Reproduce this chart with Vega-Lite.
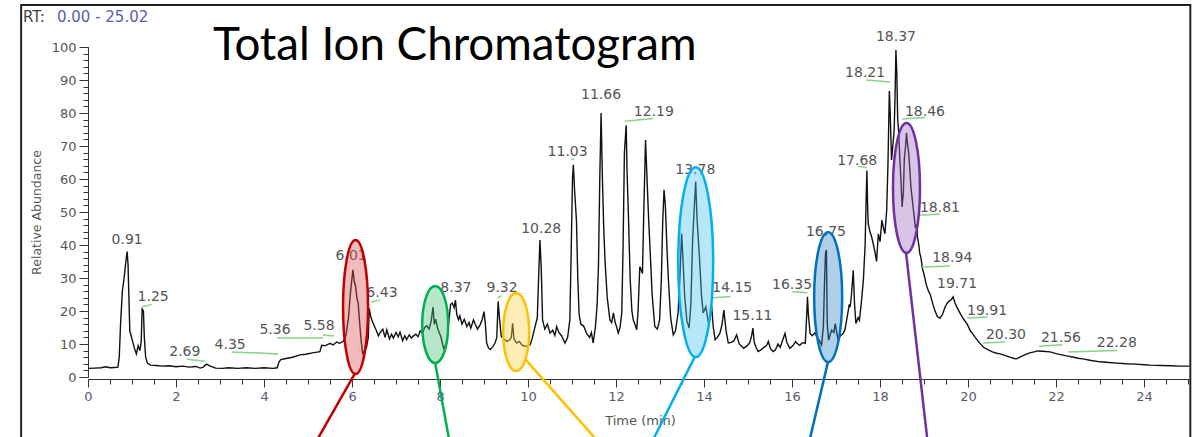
{
  "$schema": "https://vega.github.io/schema/vega-lite/v6.json",
  "width": 1101,
  "height": 330,
  "autosize": {"type": "none"},
  "padding": {"left": 88, "top": 47, "right": 7, "bottom": 60},
  "background": "#ffffff",
  "config": {"view": {"stroke": null}},
  "resolve": {"axis": {"x": "independent", "y": "independent"}},
  "datasets": {
    "trace": [
      {"t":0.00,"a":2.6},{"t":0.15,"a":2.7},{"t":0.3,"a":2.8},{"t":0.4,"a":3.1},{"t":0.5,"a":2.8},{"t":0.6,"a":2.9},{"t":0.68,"a":3.0},
      {"t":0.71,"a":6},{"t":0.74,"a":16},{"t":0.78,"a":26},{"t":0.82,"a":30},{"t":0.86,"a":35},{"t":0.89,"a":38},{"t":0.91,"a":34},
      {"t":0.93,"a":24},{"t":0.95,"a":14},{"t":0.98,"a":12.5},{"t":1.02,"a":10.5},{"t":1.06,"a":8.5},{"t":1.1,"a":7},{"t":1.14,"a":9.5},
      {"t":1.18,"a":8},{"t":1.21,"a":11},{"t":1.23,"a":20.6},{"t":1.26,"a":20},{"t":1.28,"a":12},{"t":1.31,"a":6},{"t":1.35,"a":4.2},
      {"t":1.42,"a":3.6},{"t":1.55,"a":3.5},{"t":1.7,"a":3.3},{"t":1.85,"a":3.4},{"t":2.0,"a":3.1},{"t":2.15,"a":3.3},{"t":2.3,"a":3.0},
      {"t":2.45,"a":3.2},{"t":2.55,"a":2.7},{"t":2.62,"a":3.0},{"t":2.69,"a":3.9},{"t":2.78,"a":3.3},{"t":2.9,"a":2.7},{"t":3.05,"a":2.6},
      {"t":3.2,"a":2.8},{"t":3.4,"a":2.6},{"t":3.6,"a":2.8},{"t":3.8,"a":2.6},{"t":4.0,"a":2.8},{"t":4.2,"a":2.6},{"t":4.3,"a":2.8},
      {"t":4.34,"a":4.5},{"t":4.38,"a":5.3},{"t":4.5,"a":5.6},{"t":4.65,"a":6.0},{"t":4.82,"a":6.7},{"t":4.95,"a":6.9},{"t":5.1,"a":7.3},
      {"t":5.27,"a":7.7},{"t":5.31,"a":9.6},{"t":5.4,"a":9.5},{"t":5.5,"a":10.2},{"t":5.57,"a":9.7},{"t":5.65,"a":10.6},{"t":5.72,"a":10.2},
      {"t":5.8,"a":10.8},{"t":5.86,"a":12.5},{"t":5.92,"a":18},{"t":5.96,"a":25},{"t":6.0,"a":30},{"t":6.02,"a":32.5},{"t":6.05,"a":29},
      {"t":6.08,"a":27.5},{"t":6.11,"a":24},{"t":6.14,"a":22.4},{"t":6.17,"a":17},{"t":6.2,"a":12},{"t":6.24,"a":7.2},{"t":6.28,"a":7.8},
      {"t":6.33,"a":9},{"t":6.37,"a":12},{"t":6.39,"a":20.8},{"t":6.43,"a":18},{"t":6.48,"a":16.3},{"t":6.54,"a":14.5},{"t":6.6,"a":12.5},
      {"t":6.64,"a":13.5},{"t":6.7,"a":14.5},{"t":6.75,"a":12},{"t":6.79,"a":14.3},{"t":6.85,"a":11.5},{"t":6.9,"a":13},{"t":6.94,"a":11.8},
      {"t":7.0,"a":13.5},{"t":7.05,"a":12.2},{"t":7.09,"a":13.6},{"t":7.15,"a":11},{"t":7.2,"a":12.5},{"t":7.24,"a":11.3},{"t":7.3,"a":12.8},
      {"t":7.35,"a":11.8},{"t":7.39,"a":12.4},{"t":7.45,"a":13},{"t":7.5,"a":12.2},{"t":7.55,"a":14},{"t":7.6,"a":13.2},{"t":7.65,"a":15},
      {"t":7.7,"a":15.5},{"t":7.75,"a":14.5},{"t":7.8,"a":17},{"t":7.84,"a":21.2},{"t":7.87,"a":16},{"t":7.9,"a":17.5},{"t":7.94,"a":15},
      {"t":7.98,"a":13.5},{"t":8.02,"a":12.2},{"t":8.08,"a":8.7},{"t":8.12,"a":9.5},{"t":8.16,"a":11},{"t":8.2,"a":17},{"t":8.24,"a":22},
      {"t":8.28,"a":22.4},{"t":8.32,"a":21},{"t":8.35,"a":23.3},{"t":8.38,"a":19},{"t":8.42,"a":17.4},{"t":8.45,"a":18.5},{"t":8.5,"a":16},
      {"t":8.55,"a":17.5},{"t":8.61,"a":15.3},{"t":8.66,"a":16.5},{"t":8.7,"a":14.8},{"t":8.76,"a":17.3},{"t":8.8,"a":16},{"t":8.85,"a":14.5},
      {"t":8.91,"a":15.8},{"t":8.96,"a":17.5},{"t":9.0,"a":19.8},{"t":9.03,"a":16},{"t":9.06,"a":10.3},{"t":9.1,"a":8.8},{"t":9.14,"a":8.3},
      {"t":9.2,"a":9.2},{"t":9.25,"a":10.3},{"t":9.29,"a":12},{"t":9.32,"a":22.9},{"t":9.35,"a":18},{"t":9.39,"a":12.3},{"t":9.45,"a":11.5},
      {"t":9.52,"a":10.8},{"t":9.58,"a":11.2},{"t":9.62,"a":12},{"t":9.65,"a":16.3},{"t":9.68,"a":11.5},{"t":9.74,"a":10.3},{"t":9.8,"a":10.8},
      {"t":9.86,"a":9.7},{"t":9.93,"a":9.3},{"t":10.0,"a":9.5},{"t":10.05,"a":9.8},{"t":10.1,"a":12},{"t":10.16,"a":15.3},{"t":10.21,"a":18},
      {"t":10.24,"a":30},{"t":10.27,"a":41.5},{"t":10.3,"a":33},{"t":10.33,"a":17.3},{"t":10.38,"a":14.5},{"t":10.44,"a":16},{"t":10.5,"a":13.3},
      {"t":10.56,"a":14.2},{"t":10.61,"a":12.6},{"t":10.65,"a":15.3},{"t":10.7,"a":13.5},{"t":10.76,"a":12.5},{"t":10.84,"a":10.3},{"t":10.9,"a":12},
      {"t":10.95,"a":17.3},{"t":10.98,"a":38},{"t":11.01,"a":60},{"t":11.03,"a":64.3},{"t":11.06,"a":56},{"t":11.1,"a":47.5},{"t":11.13,"a":30},
      {"t":11.16,"a":19},{"t":11.2,"a":16},{"t":11.26,"a":15.5},{"t":11.33,"a":13.3},{"t":11.4,"a":12},{"t":11.44,"a":13.5},{"t":11.48,"a":10.3},
      {"t":11.53,"a":15},{"t":11.57,"a":22},{"t":11.6,"a":33.5},{"t":11.63,"a":60},{"t":11.66,"a":80},{"t":11.69,"a":60},{"t":11.72,"a":45},
      {"t":11.75,"a":35},{"t":11.8,"a":24},{"t":11.86,"a":17.3},{"t":11.9,"a":16.5},{"t":11.94,"a":19.4},{"t":11.98,"a":16.5},{"t":12.01,"a":15.3},
      {"t":12.05,"a":13.3},{"t":12.09,"a":15},{"t":12.13,"a":19.4},{"t":12.16,"a":40},{"t":12.19,"a":68},{"t":12.23,"a":76.3},{"t":12.25,"a":62},
      {"t":12.28,"a":49.6},{"t":12.32,"a":30},{"t":12.36,"a":20},{"t":12.39,"a":17.3},{"t":12.43,"a":16},{"t":12.47,"a":14.3},{"t":12.5,"a":20},
      {"t":12.54,"a":33.5},{"t":12.6,"a":31.4},{"t":12.63,"a":50},{"t":12.67,"a":71.8},{"t":12.71,"a":58},{"t":12.74,"a":48},{"t":12.77,"a":39.5},
      {"t":12.82,"a":25},{"t":12.88,"a":15.3},{"t":12.94,"a":14.5},{"t":12.99,"a":17.3},{"t":13.03,"a":30},{"t":13.06,"a":47},{"t":13.09,"a":56.7},
      {"t":13.12,"a":52},{"t":13.16,"a":38},{"t":13.19,"a":29.4},{"t":13.24,"a":18},{"t":13.3,"a":12.8},{"t":13.35,"a":14},{"t":13.41,"a":19.4},
      {"t":13.45,"a":30},{"t":13.49,"a":43.5},{"t":13.52,"a":36},{"t":13.56,"a":24.3},{"t":13.61,"a":17},{"t":13.66,"a":14.8},{"t":13.7,"a":22},
      {"t":13.74,"a":41.5},{"t":13.78,"a":52},{"t":13.81,"a":59.2},{"t":13.84,"a":48},{"t":13.89,"a":37.5},{"t":13.94,"a":25},{"t":13.98,"a":19.4},
      {"t":14.04,"a":21.3},{"t":14.1,"a":16.3},{"t":14.14,"a":18},{"t":14.17,"a":21.9},{"t":14.21,"a":15},{"t":14.25,"a":11.3},{"t":14.3,"a":12},
      {"t":14.36,"a":13.3},{"t":14.41,"a":16},{"t":14.45,"a":20.3},{"t":14.5,"a":14},{"t":14.55,"a":10.3},{"t":14.62,"a":10.5},{"t":14.68,"a":11},
      {"t":14.74,"a":12.8},{"t":14.8,"a":10},{"t":14.9,"a":8.7},{"t":14.98,"a":9.5},{"t":15.04,"a":10.5},{"t":15.08,"a":12.5},{"t":15.11,"a":14.8},
      {"t":15.14,"a":10.5},{"t":15.18,"a":9},{"t":15.23,"a":7.7},{"t":15.3,"a":8.3},{"t":15.36,"a":9},{"t":15.42,"a":9.5},{"t":15.46,"a":10.8},
      {"t":15.51,"a":8.5},{"t":15.57,"a":7.7},{"t":15.62,"a":8.2},{"t":15.68,"a":10},{"t":15.73,"a":9},{"t":15.78,"a":11},{"t":15.84,"a":13.2},
      {"t":15.88,"a":10.5},{"t":15.95,"a":8.7},{"t":16.02,"a":9.5},{"t":16.08,"a":10.7},{"t":16.11,"a":10.2},{"t":16.17,"a":9.6},{"t":16.24,"a":10.4},
      {"t":16.3,"a":10.2},{"t":16.33,"a":18},{"t":16.35,"a":24.3},{"t":16.37,"a":19},{"t":16.41,"a":13.2},{"t":16.46,"a":12.5},{"t":16.52,"a":13.4},
      {"t":16.56,"a":12.2},{"t":16.62,"a":11},{"t":16.67,"a":9.7},{"t":16.71,"a":15},{"t":16.74,"a":30},{"t":16.76,"a":37.5},{"t":16.78,"a":38.5},
      {"t":16.8,"a":16},{"t":16.83,"a":11.2},{"t":16.87,"a":13},{"t":16.9,"a":14.2},{"t":16.95,"a":13.5},{"t":16.98,"a":16.2},{"t":17.02,"a":13},
      {"t":17.05,"a":11.2},{"t":17.1,"a":12.5},{"t":17.15,"a":13},{"t":17.2,"a":14.2},{"t":17.25,"a":18},{"t":17.3,"a":22},{"t":17.32,"a":21.2},
      {"t":17.35,"a":25},{"t":17.39,"a":32.3},{"t":17.42,"a":22},{"t":17.45,"a":16.2},{"t":17.5,"a":18},{"t":17.53,"a":17.2},{"t":17.57,"a":22},
      {"t":17.62,"a":29.3},{"t":17.66,"a":40},{"t":17.68,"a":52},{"t":17.7,"a":62.6},{"t":17.72,"a":50},{"t":17.73,"a":46.5},{"t":17.77,"a":44},
      {"t":17.81,"a":42.4},{"t":17.85,"a":40},{"t":17.89,"a":37.4},{"t":17.92,"a":35},{"t":17.96,"a":43.4},{"t":18.0,"a":41},{"t":18.04,"a":47.5},
      {"t":18.08,"a":45},{"t":18.11,"a":43.4},{"t":18.15,"a":50.5},{"t":18.18,"a":65},{"t":18.21,"a":86.7},{"t":18.23,"a":80},{"t":18.26,"a":65.8},
      {"t":18.29,"a":70},{"t":18.32,"a":74.9},{"t":18.34,"a":85},{"t":18.36,"a":99.1},{"t":18.38,"a":92},{"t":18.4,"a":78},{"t":18.42,"a":74.9},
      {"t":18.45,"a":65.8},{"t":18.48,"a":58},{"t":18.5,"a":51.5},{"t":18.53,"a":56},{"t":18.55,"a":66},{"t":18.58,"a":70},{"t":18.6,"a":74},
      {"t":18.62,"a":71},{"t":18.65,"a":68},{"t":18.68,"a":62},{"t":18.7,"a":57.7},{"t":18.73,"a":54},{"t":18.75,"a":51.5},{"t":18.78,"a":48},
      {"t":18.8,"a":45.5},{"t":18.83,"a":46},{"t":18.85,"a":42.4},{"t":18.88,"a":40},{"t":18.9,"a":37.6},{"t":18.93,"a":36},{"t":18.96,"a":33},
      {"t":19.0,"a":31},{"t":19.05,"a":28},{"t":19.1,"a":26},{"t":19.14,"a":25},{"t":19.2,"a":22},{"t":19.25,"a":20},{"t":19.3,"a":18.3},
      {"t":19.36,"a":17.8},{"t":19.42,"a":19},{"t":19.47,"a":21},{"t":19.52,"a":22.3},{"t":19.57,"a":23},{"t":19.62,"a":23.5},{"t":19.66,"a":24.3},
      {"t":19.7,"a":22.5},{"t":19.75,"a":21},{"t":19.82,"a":19.3},{"t":19.9,"a":17.5},{"t":19.98,"a":16},{"t":20.05,"a":14},{"t":20.11,"a":13},
      {"t":20.16,"a":12},{"t":20.25,"a":10.5},{"t":20.35,"a":9},{"t":20.45,"a":8.3},{"t":20.55,"a":7.6},{"t":20.65,"a":7.2},{"t":20.73,"a":7},
      {"t":20.85,"a":6.5},{"t":20.95,"a":6.0},{"t":21.05,"a":5.6},{"t":21.1,"a":5.5},{"t":21.2,"a":6.2},{"t":21.3,"a":6.8},{"t":21.4,"a":7.3},
      {"t":21.5,"a":7.6},{"t":21.57,"a":7.9},{"t":21.7,"a":7.8},{"t":21.86,"a":7.6},{"t":22.0,"a":7.1},{"t":22.1,"a":6.8},{"t":22.24,"a":6.4},
      {"t":22.4,"a":6},{"t":22.5,"a":5.7},{"t":22.61,"a":5.5},{"t":22.8,"a":5},{"t":23.0,"a":4.6},{"t":23.2,"a":4.4},{"t":23.38,"a":4.2},
      {"t":23.6,"a":4.0},{"t":23.8,"a":3.9},{"t":24.0,"a":3.7},{"t":24.14,"a":3.6},{"t":24.4,"a":3.5},{"t":24.6,"a":3.4},{"t":24.8,"a":3.3},{"t":25.02,"a":3.3}
    ],
    "peaks": [
      {"t":0.89,"a":41.5,"label":"0.91"},{"t":1.48,"a":24.2,"label":"1.25"},{"t":2.2,"a":7.6,"label":"2.69"},
      {"t":3.23,"a":9.7,"label":"4.35"},{"t":4.25,"a":14.2,"label":"5.36"},{"t":5.25,"a":15.5,"label":"5.58"},
      {"t":5.98,"a":36.7,"label":"6.01"},{"t":6.68,"a":25.5,"label":"6.43"},{"t":8.36,"a":27,"label":"8.37"},
      {"t":9.41,"a":27,"label":"9.32"},{"t":10.3,"a":44.8,"label":"10.28"},{"t":10.9,"a":68.2,"label":"11.03"},
      {"t":11.66,"a":85.5,"label":"11.66"},{"t":12.86,"a":80.3,"label":"12.19"},{"t":13.8,"a":62.7,"label":"13.78"},
      {"t":14.64,"a":27,"label":"14.15"},{"t":15.1,"a":18.5,"label":"15.11"},{"t":16.0,"a":27.9,"label":"16.35"},
      {"t":16.77,"a":44,"label":"16.75"},{"t":17.48,"a":65.5,"label":"17.68"},{"t":17.66,"a":92,"label":"18.21"},
      {"t":18.36,"a":103,"label":"18.37"},{"t":19.02,"a":80.3,"label":"18.46"},{"t":19.36,"a":51.2,"label":"18.81"},
      {"t":19.64,"a":36,"label":"18.94"},{"t":19.75,"a":28.2,"label":"19.71"},{"t":20.43,"a":20,"label":"19.91"},
      {"t":20.86,"a":12.7,"label":"20.30"},{"t":22.11,"a":11.8,"label":"21.56"},{"t":23.38,"a":10.3,"label":"22.28"}
    ],
    "underlines": [
      {"t1":1.23,"a1":21.2,"t2":1.45,"a2":22.0},{"t1":2.25,"a1":5.4,"t2":2.66,"a2":4.8},{"t1":3.27,"a1":7.6,"t2":4.32,"a2":7.0},
      {"t1":4.30,"a1":11.8,"t2":5.34,"a2":11.8},{"t1":5.34,"a1":12.7,"t2":5.59,"a2":12.4},{"t1":6.43,"a1":22.7,"t2":6.64,"a2":23.3},
      {"t1":9.3,"a1":24.0,"t2":9.4,"a2":24.6},{"t1":10.98,"a1":66.0,"t2":11.05,"a2":66.0},{"t1":12.2,"a1":77.5,"t2":12.84,"a2":78.3},
      {"t1":14.2,"a1":24.0,"t2":14.6,"a2":24.4},{"t1":16.0,"a1":25.8,"t2":16.35,"a2":25.5},{"t1":17.5,"a1":63.9,"t2":17.7,"a2":63.4},
      {"t1":17.68,"a1":90.0,"t2":18.23,"a2":89.4},{"t1":18.5,"a1":78.2,"t2":19.02,"a2":78.6},{"t1":18.91,"a1":49.0,"t2":19.36,"a2":49.4},
      {"t1":18.95,"a1":33.3,"t2":19.59,"a2":33.6},{"t1":19.98,"a1":17.9,"t2":20.45,"a2":18.2},{"t1":20.34,"a1":10.3,"t2":20.84,"a2":10.6},
      {"t1":21.61,"a1":9.3,"t2":22.14,"a2":9.8},{"t1":22.27,"a1":7.6,"t2":23.39,"a2":8.0}
    ],
    "highlights": [
      {"name":"red","t":6.08,"a":21.2},{"name":"green","t":7.89,"a":15.9},{"name":"yellow","t":9.73,"a":13.6},
      {"name":"cyan","t":13.81,"a":34.8},{"name":"blue","t":16.82,"a":24.2},{"name":"purple","t":18.60,"a":57.3}
    ],
    "connectors": [
      {"name":"red","t1":6.07,"a1":1.2,"t2":5.23,"a2":-18.5},{"name":"green","t1":7.89,"a1":4.2,"t2":8.2,"a2":-18.5},
      {"name":"yellow","t1":9.95,"a1":5.2,"t2":11.52,"a2":-18.5},{"name":"cyan","t1":13.80,"a1":6.4,"t2":12.86,"a2":-18.5},
      {"name":"blue","t1":16.82,"a1":4.8,"t2":16.41,"a2":-18.5},{"name":"purple","t1":18.59,"a1":37.6,"t2":19.07,"a2":-18.5}
    ]
  },
  "layer": [
    {
      "data": {"name": "trace"},
      "mark": {"type": "line", "color": "#111111", "strokeWidth": 1.4},
      "encoding": {
        "x": {
          "field": "t", "type": "quantitative",
          "scale": {"domain": [0, 25.02], "nice": false, "zero": false},
          "axis": {
            "orient": "bottom",
            "values": [0,0.5,1,1.5,2,2.5,3,3.5,4,4.5,5,5.5,6,6.5,7,7.5,8,8.5,9,9.5,10,10.5,11,11.5,12,12.5,13,13.5,14,14.5,15,15.5,16,16.5,17,17.5,18,18.5,19,19.5,20,20.5,21,21.5,22,22.5,23,23.5,24,24.5,25],
            "labels": false, "tickSize": 5, "offset": 2, "grid": false, "title": null,
            "domainColor": "#333333", "tickColor": "#333333"
          }
        },
        "y": {
          "field": "a", "type": "quantitative",
          "scale": {"domain": [0, 100], "nice": false},
          "axis": {
            "orient": "left",
            "values": [0,2,4,6,8,10,12,14,16,18,20,22,24,26,28,30,32,34,36,38,40,42,44,46,48,50,52,54,56,58,60,62,64,66,68,70,72,74,76,78,80,82,84,86,88,90,92,94,96,98,100],
            "labels": false, "tickSize": 5, "grid": false, "title": null,
            "domainColor": "#333333", "tickColor": "#333333"
          }
        }
      }
    },
    {
      "data": {"values": [{}]},
      "mark": {"type": "rect", "fillOpacity": 0, "stroke": "#222222", "strokeWidth": 2},
      "encoding": {
        "x": {"datum": -1.52, "type": "quantitative", "axis": null},
        "x2": {"datum": 25.05},
        "y": {"datum": 112.7, "type": "quantitative", "axis": null},
        "y2": {"datum": -19.5}
      }
    },
    {
      "data": {"name": "underlines"},
      "mark": {"type": "rule", "color": "#88d488", "strokeWidth": 1.5},
      "encoding": {
        "x": {"field": "t1", "type": "quantitative", "axis": null},
        "x2": {"field": "t2"},
        "y": {"field": "a1", "type": "quantitative", "axis": null},
        "y2": {"field": "a2"}
      }
    },
    {
      "data": {"name": "peaks"},
      "mark": {"type": "text", "font": "DejaVu Sans", "fontSize": 14, "color": "#555555", "align": "center", "baseline": "middle"},
      "encoding": {
        "x": {
          "field": "t", "type": "quantitative",
          "axis": {
            "orient": "bottom",
            "values": [0,2,4,6,8,10,12,14,16,18,20,22,24],
            "tickSize": 8, "offset": 2, "grid": false, "domain": false,
            "tickColor": "#333333",
            "labelFont": "DejaVu Sans", "labelFontSize": 13, "labelColor": "#5a5a6e", "labelPadding": 3,
            "labelOverlap": false, "labelFlush": false, "labelBound": false,
            "title": "Time (min)", "titleFont": "DejaVu Sans", "titleFontSize": 13, "titleColor": "#555555",
            "titleFontWeight": "normal", "titleY": 41, "titleX": 552, "titleBaseline": "middle"
          }
        },
        "y": {
          "field": "a", "type": "quantitative",
          "axis": {
            "orient": "left",
            "values": [0,10,20,30,40,50,60,70,80,90,100],
            "tickSize": 9, "grid": false, "domain": false,
            "tickColor": "#333333",
            "labelFont": "DejaVu Sans", "labelFontSize": 13, "labelColor": "#555555", "labelPadding": 3,
            "labelOverlap": false, "labelBound": false, "labelFlush": false,
            "title": "Relative Abundance", "titleFont": "DejaVu Sans", "titleFontSize": 12.5, "titleColor": "#555555",
            "titleFontWeight": "normal", "titleX": -52, "titleY": 165, "titleAngle": -90, "titleBaseline": "middle", "titleAlign": "center"
          }
        },
        "text": {"field": "label"}
      }
    },
    {
      "data": {"name": "connectors"},
      "mark": {"type": "rule", "strokeWidth": 2.5},
      "encoding": {
        "x": {"field": "t1", "type": "quantitative", "axis": null},
        "x2": {"field": "t2"},
        "y": {"field": "a1", "type": "quantitative", "axis": null},
        "y2": {"field": "a2"},
        "stroke": {
          "field": "name", "type": "nominal", "legend": null,
          "scale": {"domain": ["red","green","yellow","cyan","blue","purple"], "range": ["#c00000","#00b050","#ffc000","#00b0f0","#0070c0","#7030a0"]}
        }
      }
    },
    {
      "data": {"name": "highlights"},
      "mark": {"type": "point", "size": 4, "opacity": 1, "fillOpacity": 0.4, "strokeOpacity": 1, "strokeWidth": 2.5},
      "encoding": {
        "x": {"field": "t", "type": "quantitative", "axis": null},
        "y": {"field": "a", "type": "quantitative", "axis": null},
        "shape": {
          "field": "name", "type": "nominal", "legend": null,
          "scale": {
            "domain": ["red","green","yellow","cyan","blue","purple"],
            "range": [
              "M -12.5 0 A 12.5 67 0 1 0 12.5 0 A 12.5 67 0 1 0 -12.5 0 Z",
              "M -13 0 A 13 38.5 0 1 0 13 0 A 13 38.5 0 1 0 -13 0 Z",
              "M -13 0 A 13 39 0 1 0 13 0 A 13 39 0 1 0 -13 0 Z",
              "M -17.5 0 A 17.5 95 0 1 0 17.5 0 A 17.5 95 0 1 0 -17.5 0 Z",
              "M -14 0 A 14 65 0 1 0 14 0 A 14 65 0 1 0 -14 0 Z",
              "M -13.5 0 A 13.5 65 0 1 0 13.5 0 A 13.5 65 0 1 0 -13.5 0 Z"
            ]
          }
        },
        "fill": {
          "field": "name", "type": "nominal", "legend": null,
          "scale": {"domain": ["red","green","yellow","cyan","blue","purple"], "range": ["#dd5555","#4cc17a","#ffd24d","#4cc3f0","#3a86c8","#9a6cc0"]}
        },
        "stroke": {"field": "name", "type": "nominal", "legend": null}
      }
    },
    {
      "data": {"values": [{}]},
      "mark": {"type": "text", "text": "Total Ion Chromatogram", "font": "Lato", "fontSize": 45.7, "color": "#000000", "align": "left", "baseline": "alphabetic"},
      "encoding": {
        "x": {"datum": 2.84, "type": "quantitative", "axis": null},
        "y": {"datum": 96.06, "type": "quantitative", "axis": null}
      }
    },
    {
      "data": {"values": [{}]},
      "mark": {"type": "text", "text": "RT:", "font": "DejaVu Sans", "fontSize": 15, "color": "#444444", "align": "left", "baseline": "middle"},
      "encoding": {
        "x": {"datum": -1.477, "type": "quantitative", "axis": null},
        "y": {"datum": 109.1, "type": "quantitative", "axis": null}
      }
    },
    {
      "data": {"values": [{}]},
      "mark": {"type": "text", "text": "0.00 - 25.02", "font": "DejaVu Sans", "fontSize": 15, "color": "#5b5bb5", "align": "left", "baseline": "middle"},
      "encoding": {
        "x": {"datum": -0.705, "type": "quantitative", "axis": null},
        "y": {"datum": 109.1, "type": "quantitative", "axis": null}
      }
    }
  ]
}
